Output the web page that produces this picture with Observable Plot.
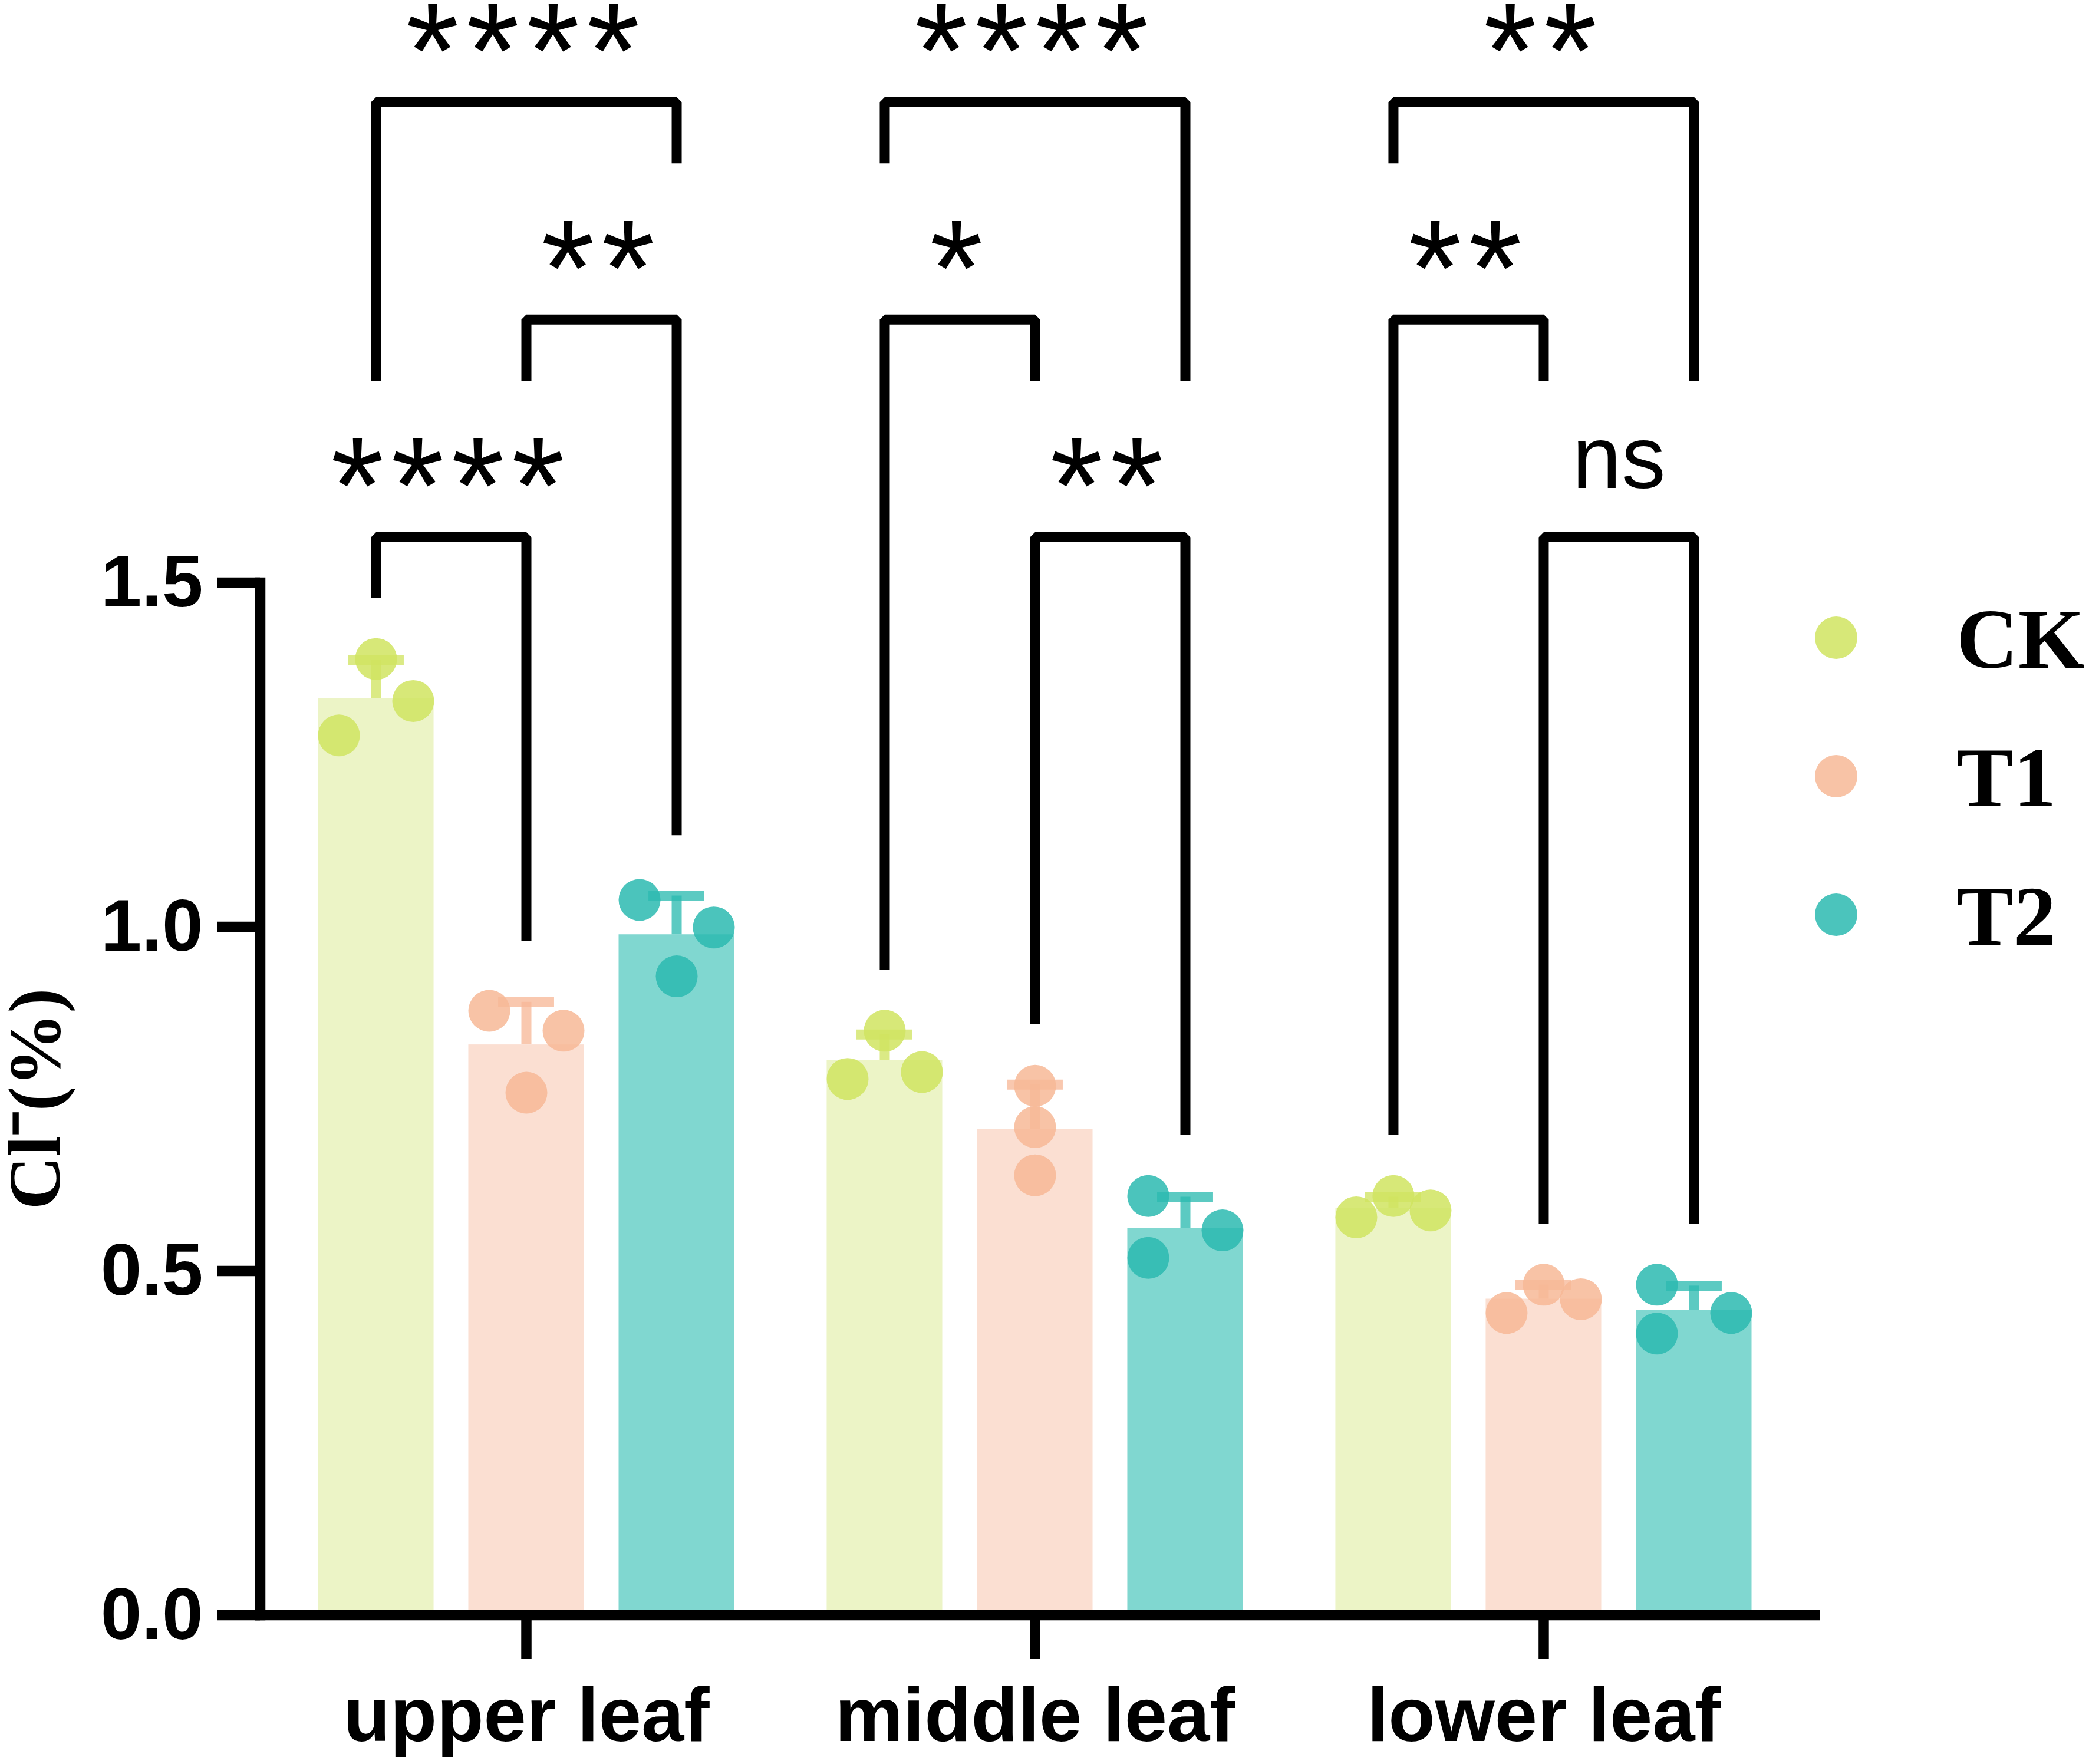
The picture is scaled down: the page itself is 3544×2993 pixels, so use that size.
<!DOCTYPE html>
<html>
<head>
<meta charset="utf-8">
<script src="https://cdn.jsdelivr.net/npm/d3@7"></script>
<script src="https://cdn.jsdelivr.net/npm/@observablehq/plot@0.6"></script>
<style>
  html, body { margin: 0; padding: 0; background: #ffffff; }
  #wrap { position: relative; width: 3544px; height: 2993px; background: #ffffff; }
</style>
</head>
<body>
<div id="wrap"></div>
<script>
// ---------------- data ----------------
const groups = ["upper leaf", "middle leaf", "lower leaf"];
const treatments = ["CK", "T1", "T2"];
const yTicks = [0, 0.5, 1.0, 1.5];
const yTitle = "Cl⁻(%)";

// replicate values (Cl- %), one inner array per leaf position
const ckValues = [[1.278, 1.389, 1.328], [0.779, 0.849, 0.789], [0.578, 0.609, 0.588]];
const t1Values = [[0.878, 0.759, 0.849], [0.769, 0.709, 0.639], [0.439, 0.480, 0.459]];
const t2Values = [[1.039, 0.928, 0.999], [0.609, 0.519, 0.559], [0.480, 0.409, 0.439]];

// scatter column of each replicate inside its bar (-1 left, 0 centre, 1 right)
const ckSlots = [[-1, 0, 1], [-1, 0, 1], [-1, 0, 1]];
const t1Slots = [[-1, 0, 1], [0, 0, 0], [-1, 0, 1]];
const t2Slots = [[-1, 0, 1], [-1, -1, 1], [-1, -1, 1]];

// significance comparisons
const sigGroup = ["upper leaf", "upper leaf", "upper leaf", "middle leaf", "middle leaf", "middle leaf", "lower leaf", "lower leaf", "lower leaf"];
const sigFrom  = ["CK", "T1", "CK", "CK", "T1", "CK", "CK", "T1", "CK"];
const sigTo    = ["T1", "T2", "T2", "T1", "T2", "T2", "T1", "T2", "T2"];
const sigLabel = ["****", "**", "****", "*", "**", "****", "**", "ns", "**"];
// bracket layout (in y units): bar height, left leg end, right leg end
const sigLevel    = [1.566, 1.882, 2.198, 1.882, 1.566, 2.198, 1.882, 1.566, 2.198];
const sigLeftEnd  = [1.478, 1.793, 1.793, 0.938, 0.859, 2.109, 0.698, 0.568, 2.109];
const sigRightEnd = [0.979, 1.133, 2.109, 1.793, 0.698, 1.793, 1.793, 0.568, 1.793];

// ---------------- styling / layout ----------------
const barColor = {CK: "#ecf4c6", T1: "#fbdfd2", T2: "#80d7d0"};
const dotColor = {CK: "#d0e460", T1: "#f7b897", T2: "#2bbab0"};
const xDomain = [-0.5232, 2.5325];
const treatmentOffset = {CK: -0.2955, T1: 0, T2: 0.2955};
const barHalf = 0.1136, slotStep = 0.073, capHalf = 0.055;

const valuesBy = {CK: ckValues, T1: t1Values, T2: t2Values};
const slotsBy = {CK: ckSlots, T1: t1Slots, T2: t2Slots};

const points = [];
const summary = [];
groups.forEach((g, gi) => {
  treatments.forEach(t => {
    const vals = valuesBy[t][gi];
    const pos = gi + treatmentOffset[t];
    vals.forEach((v, k) => points.push({group: g, treatment: t, value: v, px: pos + slotsBy[t][gi][k] * slotStep}));
    const mean = d3.mean(vals), sd = d3.deviation(vals);
    summary.push({group: g, treatment: t, pos, mean, sd, top: mean + sd});
  });
});

const bracketPts = [];
const sigRows = sigLabel.map((lab, i) => {
  const gi = groups.indexOf(sigGroup[i]);
  const xa = gi + treatmentOffset[sigFrom[i]];
  const xb = gi + treatmentOffset[sigTo[i]];
  bracketPts.push({id: i, x: xa, y: sigLeftEnd[i]}, {id: i, x: xa, y: sigLevel[i]},
                  {id: i, x: xb, y: sigLevel[i]}, {id: i, x: xb, y: sigRightEnd[i]});
  return {label: lab, x: (xa + xb) / 2, y: sigLevel[i]};
});

const chart = Plot.plot({
  width: 3544,
  height: 2993,
  marginLeft: 441,
  marginRight: 466,
  marginTop: 988,
  marginBottom: 253,
  x: {type: "linear", domain: xDomain},
  y: {domain: [0, 1.5]},
  color: {type: "identity"},
  style: {fontFamily: "'Liberation Sans', Arial, sans-serif", color: "black", background: "white", overflow: "visible"},
  marks: [
    Plot.rectY(summary, {x1: d => d.pos - barHalf, x2: d => d.pos + barHalf, y1: 0, y2: "mean", fill: d => barColor[d.treatment]}),
    Plot.ruleX(summary, {x: "pos", y1: "mean", y2: "top", stroke: d => dotColor[d.treatment], strokeOpacity: 0.77, strokeWidth: 17}),
    Plot.ruleY(summary, {y: "top", x1: d => d.pos - capHalf, x2: d => d.pos + capHalf, stroke: d => dotColor[d.treatment], strokeOpacity: 0.77, strokeWidth: 17}),
    Plot.dot(points, {x: "px", y: "value", r: 35.5, fill: d => dotColor[d.treatment], fillOpacity: 0.85, stroke: "none"}),
    Plot.frame({anchor: "left", stroke: "black", strokeWidth: 17.5, strokeLinecap: "square"}),
    Plot.frame({anchor: "bottom", stroke: "black", strokeWidth: 17.5}),
    Plot.axisY({ticks: yTicks, tickFormat: d3.format(".1f"), tickSize: 73, tickPadding: 24, fontSize: 125, fontWeight: "bold", strokeWidth: 17.5, label: null}),
    Plot.axisX({ticks: [0, 1, 2], tickFormat: i => groups[i], tickSize: 74, tickPadding: 47, fontSize: 130, fontWeight: "bold", strokeWidth: 17.5, label: null}),
    Plot.line(bracketPts, {x: "x", y: "y", z: "id", stroke: "black", strokeWidth: 17, strokeLinejoin: "miter", strokeLinecap: "butt"}),
    Plot.text(sigRows.filter(d => d.label !== "ns"), {x: "x", y: "y", text: "label", fontSize: 232, lineAnchor: "bottom", dy: -7}),
    Plot.text(sigRows.filter(d => d.label === "ns"), {x: "x", y: "y", text: "label", fontSize: 150, lineAnchor: "bottom", dy: -83}),
    Plot.text([yTitle], {text: d => d, frameAnchor: "left", rotate: -90, dx: -341, textAnchor: "middle", lineAnchor: "bottom", fontSize: 125, fontWeight: "bold", fontFamily: "'Liberation Serif', 'Times New Roman', serif"})
  ]
});
// widen the spacing between asterisks slightly
d3.select(chart).selectAll("text")
  .filter(function() { return /^\*+$/.test(this.textContent); })
  .attr("letter-spacing", 12);
document.getElementById("wrap").appendChild(chart);

// legend (right side)
const legend = d3.select("#wrap").append("svg")
  .attr("width", 544).attr("height", 750)
  .style("position", "absolute").style("left", "3000px").style("top", "950px");
treatments.forEach((t, i) => {
  const cy = 132 + i * 235;
  legend.append("circle").attr("cx", 115).attr("cy", cy).attr("r", 36)
    .attr("fill", dotColor[t]).attr("fill-opacity", 0.85);
  legend.append("text").attr("x", 319).attr("y", cy + 51).text(t)
    .attr("font-family", "'Liberation Serif', 'Times New Roman', serif")
    .attr("font-weight", "bold").attr("font-size", 145).attr("fill", "black");
});
</script>
</body>
</html>
